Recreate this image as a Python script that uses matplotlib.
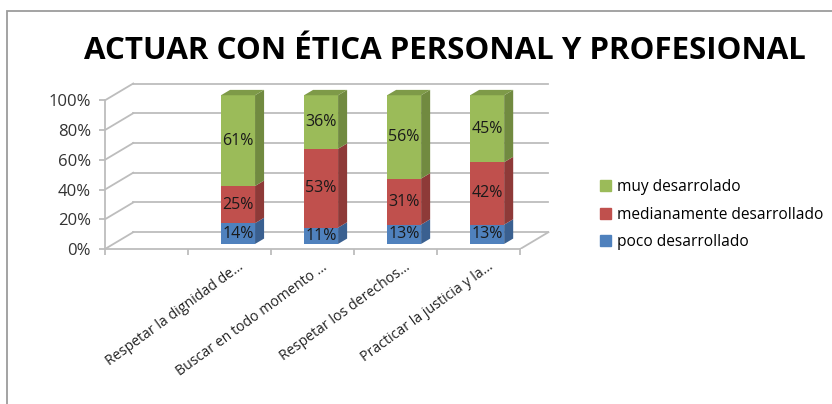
import numpy as np
import matplotlib.pyplot as plt
from matplotlib.patches import Polygon, Rectangle, Patch

plt.rcParams['font.family'] = ['Open Sans', 'DejaVu Sans']

# datos
categorias = ["Respetar la dignidad de...", "Buscar en todo momento ...",
              "Respetar los derechos...", "Practicar la justicia y la..."]
poco = [14, 11, 13, 13]
medianamente = [25, 53, 31, 42]
muy = [61, 36, 56, 45]
nombres = ["poco desarrollado", "medianamente desarrollado", "muy desarrolado"]
yticks = [0, 20, 40, 60, 80, 100]

frente = ['#4F81BD', '#C0504D', '#9BBB59']
lado = ['#3A6090', '#8E3A38', '#718A40']
arriba = '#7E9A48'
gris = '#BDBDBD'

# "3d" look of excel
dx, dy = 0.34, 11.3
f0, f1 = 0.30, 0.62
w = 0.41
nslots = len(categorias) + 1   # first slot is empty in the original

fig = plt.figure(figsize=(8.32, 4.04), dpi=100)
fig.add_artist(Rectangle((7 / 832, -0.1), 1.2, 1 - 11 / 404 + 0.1, transform=fig.transFigure,
                         fill=False, ec='#9C9C9C', lw=1.3))
fig.text(445 / 832, 1 - 51 / 404, "ACTUAR CON ÉTICA PERSONAL Y PROFESIONAL",
         ha='center', va='center', fontsize=22.5, weight='bold', color='black')

ax = fig.add_axes([105 / 832, 155 / 404, 465 / 832, 171 / 404])
ax.set_xlim(0, nslots + 0.6)
ax.set_ylim(0, 115)
ax.patch.set_alpha(0)

# walls and floor
for t in yticks:
    ax.plot([0, dx], [t, t + dy], color=gris, lw=1.3, zorder=1)
    ax.plot([dx, nslots + dx], [t + dy, t + dy], color=gris, lw=1.3, zorder=1)
ax.plot([nslots, nslots + dx], [0, dy], color=gris, lw=1.3, zorder=1)

pos = np.arange(len(categorias)) + 1
ddx, ddy = (f1 - f0) * dx, (f1 - f0) * dy
for i, p in enumerate(pos):
    base = 0
    for k, vals in enumerate([poco, medianamente, muy]):
        v = vals[i]
        xc = p + 0.5 + f0 * dx
        y0 = base + f0 * dy
        ax.bar(xc, v, width=w, bottom=y0, color=frente[k], zorder=3)
        xr = xc + w / 2
        ax.add_patch(Polygon([(xr, y0), (xr + ddx, y0 + ddy), (xr + ddx, y0 + v + ddy), (xr, y0 + v)],
                             closed=True, fc=lado[k], ec='none', zorder=3))
        ax.text(xc, y0 + v / 2, f"{v}%", ha='center', va='center', fontsize=11.5,
                color='#1a1a1a', zorder=4)
        base += v
    xl = xc - w / 2
    ytop = base + f0 * dy
    ax.add_patch(Polygon([(xl, ytop), (xr, ytop), (xr + ddx, ytop + ddy), (xl + ddx, ytop + ddy)],
                         closed=True, fc=arriba, ec='none', zorder=3))

for s in ['top', 'right']:
    ax.spines[s].set_visible(False)
ax.spines['left'].set_bounds(0, 100)
ax.spines['bottom'].set_bounds(0, nslots)
for s in ['left', 'bottom']:
    ax.spines[s].set_color(gris)
    ax.spines[s].set_linewidth(1.3)

ax.set_yticks(yticks)
ax.set_yticklabels([f"{t}%" for t in yticks])
ax.set_xticks(np.arange(nslots + 1))
ax.set_xticklabels([])
ax.tick_params(axis='both', color=gris, width=1.3, length=4, labelsize=12, labelcolor='#333333')
ax.tick_params(axis='y', pad=6)

for p, c in zip(pos, categorias):
    ax.text(p + 0.5 + 0.1, -7, c, rotation=36, rotation_mode='anchor', ha='right', va='top',
            fontsize=10.2, color='#222222')

handles = [Patch(color=frente[k]) for k in [2, 1, 0]]
fig.legend(handles, [nombres[k] for k in [2, 1, 0]], loc='upper left',
           bbox_to_anchor=(586 / 832, 1 - 165 / 404), frameon=False, fontsize=11.2,
           handlelength=0.7, handleheight=0.7, labelspacing=0.75, handletextpad=0.4)

fig.savefig('out.png', dpi=100)
